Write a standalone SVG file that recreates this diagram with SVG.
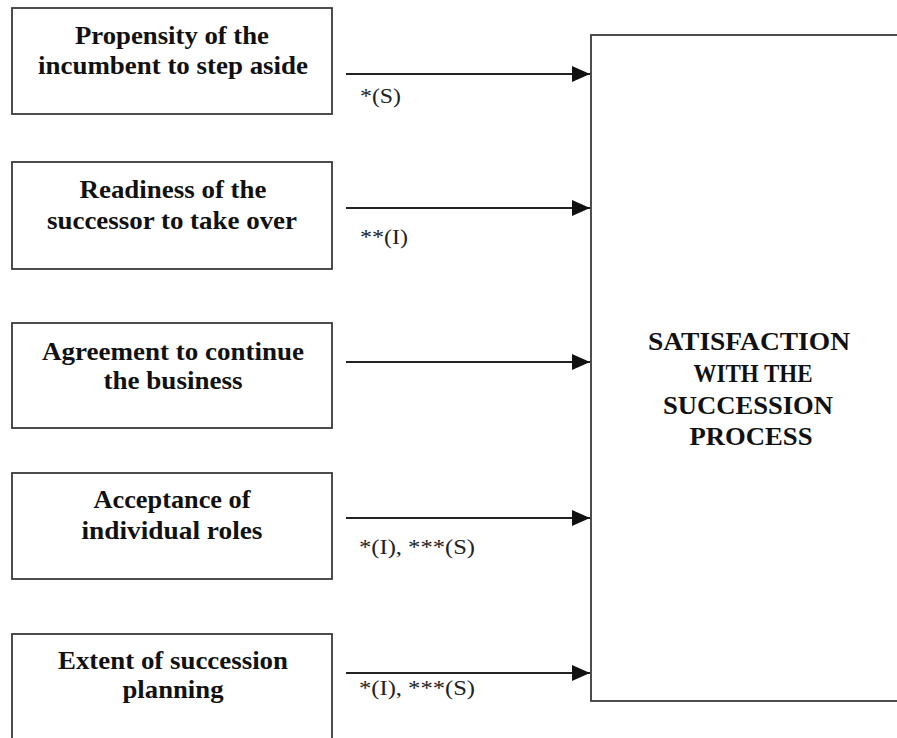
<svg xmlns="http://www.w3.org/2000/svg" width="897" height="738" viewBox="0 0 897 738">
<style>
.box{fill:#fff;stroke:#3a3a3a;stroke-width:1.8}
.t{font-family:"Liberation Serif","Times New Roman",serif;font-weight:bold;font-size:25px;fill:#111;text-anchor:middle}
.big{font-family:"Liberation Serif","Times New Roman",serif;font-weight:bold;font-size:26px;fill:#111;text-anchor:middle}
.lbl{font-family:"Liberation Serif","Times New Roman",serif;font-size:21px;fill:#222}
.c{stroke:#222;stroke-width:2;fill:none;marker-end:url(#ah)}
</style>
<defs>
<marker id="ah" markerWidth="18" markerHeight="16" refX="18" refY="8" orient="auto" markerUnits="userSpaceOnUse" viewBox="0 0 18 16">
<path d="M0,0 L18,8 L0,16 Z" fill="#111"/>
</marker>
</defs>
<rect width="897" height="738" fill="#fff"/>
<g id="n1"><rect class="box" x="12" y="8" width="320" height="106"/>
<text class="t" x="172" y="44" textLength="194" lengthAdjust="spacingAndGlyphs">Propensity of the</text><text class="t" x="173" y="74" textLength="270" lengthAdjust="spacingAndGlyphs">incumbent to step aside</text></g>
<g id="n2"><rect class="box" x="12" y="162" width="320" height="107"/>
<text class="t" x="173" y="198" textLength="187" lengthAdjust="spacingAndGlyphs">Readiness of the</text><text class="t" x="172" y="229" textLength="250" lengthAdjust="spacingAndGlyphs">successor to take over</text></g>
<g id="n3"><rect class="box" x="12" y="323" width="320" height="105"/>
<text class="t" x="173" y="360" textLength="262" lengthAdjust="spacingAndGlyphs">Agreement to continue</text><text class="t" x="173" y="389" textLength="139" lengthAdjust="spacingAndGlyphs">the business</text></g>
<g id="n4"><rect class="box" x="12" y="473" width="320" height="106"/>
<text class="t" x="172" y="508" textLength="157" lengthAdjust="spacingAndGlyphs">Acceptance of</text><text class="t" x="172" y="539" textLength="181" lengthAdjust="spacingAndGlyphs">individual roles</text></g>
<g id="n5"><rect class="box" x="12" y="634" width="320" height="120"/>
<text class="t" x="173" y="669" textLength="230" lengthAdjust="spacingAndGlyphs">Extent of succession</text><text class="t" x="173" y="698" textLength="101" lengthAdjust="spacingAndGlyphs">planning</text></g>
<g id="target"><rect class="box" x="591" y="35" width="320" height="666"/>
<text class="big" x="749" y="350" textLength="202" lengthAdjust="spacingAndGlyphs">SATISFACTION</text>
<text class="big" x="753" y="382" textLength="119" lengthAdjust="spacingAndGlyphs">WITH THE</text>
<text class="big" x="748" y="414" textLength="170" lengthAdjust="spacingAndGlyphs">SUCCESSION</text>
<text class="big" x="751" y="445" textLength="123" lengthAdjust="spacingAndGlyphs">PROCESS</text></g>
<g id="connectors">
<line class="c" x1="346" y1="74" x2="590" y2="74"/>
<line class="c" x1="346" y1="208" x2="590" y2="208"/>
<line class="c" x1="346" y1="362" x2="590" y2="362"/>
<line class="c" x1="346" y1="518" x2="590" y2="518"/>
<line class="c" x1="346" y1="673" x2="590" y2="673"/>
<text class="lbl" x="360" y="103" textLength="41" lengthAdjust="spacingAndGlyphs">*(S)</text>
<text class="lbl" x="360" y="244" textLength="48" lengthAdjust="spacingAndGlyphs">**(I)</text>
<text class="lbl" x="359" y="554" textLength="116" lengthAdjust="spacingAndGlyphs">*(I), ***(S)</text>
<text class="lbl" x="359" y="695" textLength="116" lengthAdjust="spacingAndGlyphs">*(I), ***(S)</text>
</g>
</svg>
